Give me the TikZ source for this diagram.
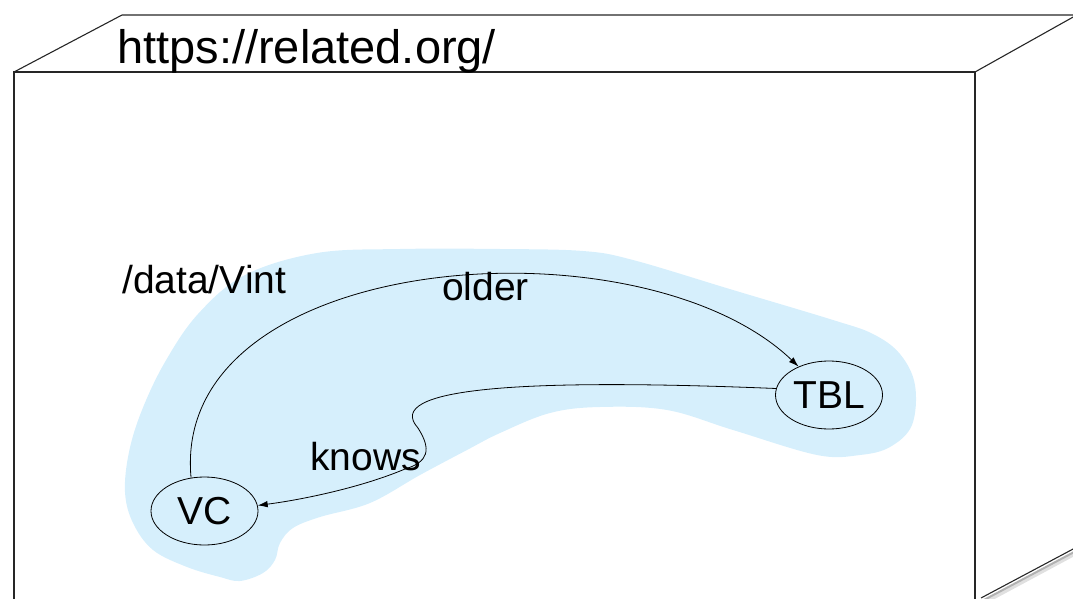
\documentclass[tikz,border=0pt]{standalone}
\usepackage{fontspec}
\setmainfont{Liberation Sans}
\usetikzlibrary{shapes.geometric,arrows.meta}
\definecolor{blobblue}{RGB}{214,239,252}
\begin{document}
\begin{tikzpicture}[x=1pt,y=-1pt,
  edgeline/.style={draw=black!85,line width=1.1pt},
  ent/.style={ellipse,draw,line width=0.8pt,minimum width=107pt,minimum height=68pt,inner sep=0pt,font=\fontsize{39}{47}\selectfont},
  lbl/.style={anchor=base west,inner sep=0pt,font=\fontsize{39}{47}\selectfont},
  rel/.style={line width=0.8pt,-{Latex[length=10pt,width=6.5pt]}}]
\useasboundingbox (0,0) rectangle (1073,599);

% outline of the host box (front, top and right faces)
\draw[edgeline] (14,600) -- (14,72) -- (975,72) -- (975,600);
\draw[edgeline] (14,72) -- (122,15) -- (1073,15);
\draw[edgeline] (975,72) -- (1075,16);
% bottom edge of the right face, with its soft shadow
\draw[black!12,line width=4pt] (983,603) -- (1076,553);
\draw[black!30,line width=2pt] (982,601) -- (1076,551);
\draw[edgeline] (981,598) -- (1075,548);

\node[lbl,font=\fontsize{47}{56}\selectfont] (host) at (117,64) {https://related.org/};

% named graph region
\fill[blobblue] plot[smooth cycle,tension=0.6] coordinates {
  (125,492) (129,452) (142,410) (165,362) (198,314) (245,275) (317,253)
  (400,249) (500,249) (583,251) (633,260) (733,290) (833,320) (873,334)
  (900,354) (915,385) (912,425) (890,447) (860,455) (817,455) (733,430)
  (667,410) (600,407) (550,413) (500,433) (467,450) (420,475) (370,503)
  (320,517) (293,528) (280,543) (275,560) (263,573) (240,581) (220,577)
  (187,567) (153,550) (133,523)};

\node[lbl] (graph) at (122,293) {/data/Vint};

\node[ent] (VC) at (204.5,511) {VC};
\node[ent] (TBL) at (829,395) {TBL};

\draw[rel] (VC.112) .. controls (170,250) and (640,215) .. (TBL.137);
\draw[rel] (TBL.173) .. controls (520,378) and (382,388) .. (418,428)
  .. controls (432,450) and (428,462) .. (405,469)
  .. controls (360,488) and (300,500) .. (VC.6);

\node[lbl] (older) at (442,300) {older};
\node[lbl] (knows) at (310,470) {knows};
\end{tikzpicture}
\end{document}
